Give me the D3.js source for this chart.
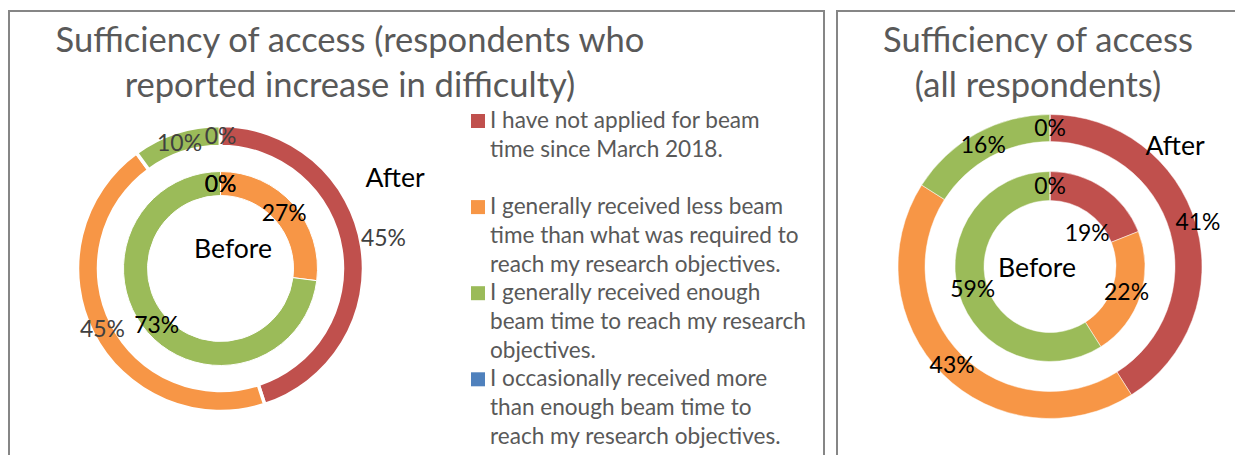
<!DOCTYPE html>
<html><head><meta charset="utf-8">
<script src="https://cdn.jsdelivr.net/npm/d3@7"></script>
<style>body{margin:0;background:#fff} svg{display:block}</style>
</head><body>
<svg id="c" width="1235" height="455"></svg>
<script>
// ---- data ----
const legendLines = [
  ["I have not applied for beam", "time since March 2018.", ""],
  ["I generally received less beam", "time than what was required to", "reach my research objectives."],
  ["I generally received enough", "beam time to reach my research", "objectives."],
  ["I occasionally received more", "than enough beam time to", "reach my research objectives."]
];
const categories = legendLines.map(l => l.filter(s => s).join(" "));
const colors = ["#C0504D", "#F79646", "#9BBB59", "#4F81BD"];
const leftBefore = [0, 27, 73, 0];
const leftAfter = [45, 45, 10, 0];
const rightBefore = [19, 22, 59, 0];
const rightAfter = [41, 43, 16, 0];
const leftTitle = ["Sufficiency of access (respondents who", "reported increase in difficulty)"];
const rightTitle = ["Sufficiency of access", "(all respondents)"];
const ringNames = ["Before", "After"];

// ---- setup ----
const svg = d3.select("#c");
const FONT = "Lato, 'Open Sans', sans-serif";
function fit(text, target, base = 20) {
  const t = svg.append("text").attr("font-family", FONT).attr("font-size", base).text(text);
  const w = t.node().getComputedTextLength();
  t.remove();
  return base * target / w;
}
const titleSize = fit(leftTitle[0], 589);
const legendSize = fit("beam time to reach my research", 316);
const labelSize = fit("45%", 45);
const nameSize = fit("Before", 78);

// panel borders
svg.append("rect").attr("x", 9).attr("y", 11).attr("width", 815).attr("height", 470)
  .attr("fill", "none").attr("stroke", "#868686").attr("stroke-width", 2);
svg.append("rect").attr("x", 837).attr("y", 11).attr("width", 430).attr("height", 470)
  .attr("fill", "none").attr("stroke", "#868686").attr("stroke-width", 2);

function title(lines, cx) {
  svg.append("text").attr("font-family", FONT).attr("font-size", titleSize)
    .attr("fill", "#595959").attr("text-anchor", "middle")
    .selectAll("tspan").data(lines).join("tspan")
    .attr("x", cx).attr("y", (d, i) => 52 + i * 44.5).text(d => d);
}
title(leftTitle, 350);
title(rightTitle, 1038);

const pie = d3.pie().sort(null).value(d => d);

function donut(cfg) {
  const g = svg.append("g").attr("transform", `translate(${cfg.cx},${cfg.cy})`);
  const rings = [
    {vals: cfg.before, r: cfg.inner, stroke: cfg.innerStroke, color: cfg.innerLabelColor, nudge: cfg.innerNudge},
    {vals: cfg.after, r: cfg.outer, stroke: cfg.outerStroke, color: cfg.outerLabelColor, nudge: cfg.outerNudge}
  ];
  rings.forEach(ring => {
    const arcs = pie(ring.vals);
    const arc = d3.arc().innerRadius(ring.r[0]).outerRadius(ring.r[1]);
    const mid = (ring.r[0] + ring.r[1]) / 2;
    const lab = d3.arc().innerRadius(mid).outerRadius(mid);
    g.append("g").selectAll("path").data(arcs).join("path")
      .attr("d", arc).attr("fill", (d, i) => colors[i])
      .attr("stroke", "#fff").attr("stroke-width", ring.stroke);
    g.append("g").selectAll("text").data(arcs).join("text")
      .attr("font-family", FONT).attr("font-size", labelSize)
      .attr("fill", ring.color).attr("text-anchor", "middle").attr("dy", "0.36em")
      .attr("transform", (d, i) => {
        const c = lab.centroid(d);
        const n = ring.nudge[i] || [0, 0];
        return `translate(${c[0] + n[0]},${c[1] + n[1]})`;
      })
      .text(d => d.data + "%");
  });
  ringNames.forEach((name, i) => {
    g.append("text").attr("font-family", FONT).attr("font-size", nameSize)
      .attr("fill", "#000").attr("text-anchor", "middle").attr("dy", "0.36em")
      .attr("x", cfg.names[i][0]).attr("y", cfg.names[i][1]).text(name);
  });
}

donut({
  cx: 220.5, cy: 268.5, inner: [73, 97], outer: [122, 143],
  before: leftBefore, after: leftAfter,
  innerStroke: 1, outerStroke: 3.5,
  innerLabelColor: "#000", outerLabelColor: "#404040",
  innerNudge: [], outerNudge: [[32, -10]],
  names: [[12.5, -20.5], [174.5, -91.5]]
});
donut({
  cx: 1050, cy: 266.5, inner: [66, 95], outer: [125, 152],
  before: rightBefore, after: rightAfter,
  innerStroke: 0.5, outerStroke: 0.5,
  innerLabelColor: "#000", outerLabelColor: "#000",
  innerNudge: [[-8, 33]], outerNudge: [[15, -6]],
  names: [[-13, 0.5], [125, -121.5]]
});

// legend
const lg = svg.append("g");
const lineH = 28.7;
let line = 0;
legendLines.forEach((lines, i) => {
  const y0 = 128 + line * lineH;
  lg.append("rect").attr("x", 471).attr("y", y0 - 14).attr("width", 14).attr("height", 14)
    .attr("fill", colors[i]);
  lg.append("text").attr("font-family", FONT).attr("font-size", legendSize).attr("fill", "#595959")
    .selectAll("tspan").data(lines).join("tspan")
    .attr("x", 490).attr("y", (d, j) => y0 + j * lineH).text(d => d);
  line += lines.length;
});
</script>
</body></html>
